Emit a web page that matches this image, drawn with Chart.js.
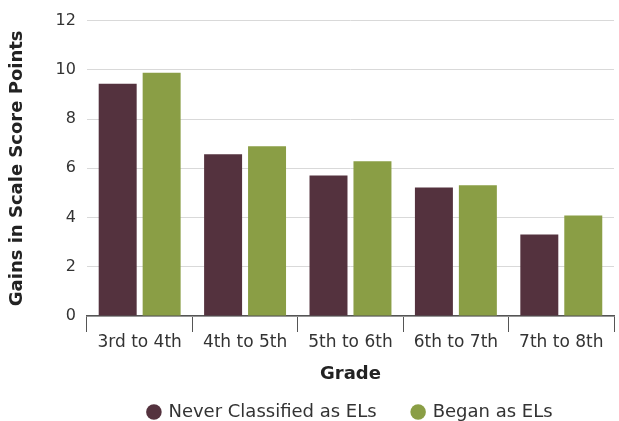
<!DOCTYPE html>
<html><head><meta charset="utf-8">
<script src="https://cdn.jsdelivr.net/npm/chart.js@4/dist/chart.umd.min.js"></script>
<style>html,body{margin:0;padding:0;background:#fff}#wrap{width:619px;height:421px}</style>
</head><body><div id="wrap"><canvas id="c" width="619" height="421"></canvas></div>
<script>
const categories = ["3rd to 4th","4th to 5th","5th to 6th","6th to 7th","7th to 8th"];
const neverEL = [9.43, 6.57, 5.71, 5.22, 3.31];
const beganEL = [9.88, 6.90, 6.29, 5.31, 4.08];
const yTicks = [0,2,4,6,8,10,12];
const FONT = "'DejaVu Sans', sans-serif";
const LEGEND_RESERVED = 34;
const LEGEND_PAD = 36;
const LEGEND_FONT = 18;
const legendPlace = {
  id: 'legendPlace',
  beforeInit(chart) {
    const lg = chart.legend;
    const origFit = lg.fit;
    lg.fit = function() { origFit.call(this); this.height = LEGEND_RESERVED; };
  },
  afterLayout(chart) {
    const lg = chart.legend;
    const ca = chart.chartArea;
    const target = 412 - LEGEND_FONT/2 - LEGEND_PAD;
    lg.top = target; lg.bottom = chart.height;
    const shift = (ca.left + ca.right) / 2 - (lg.left + lg.right) / 2;
    lg.left += shift; lg.right += shift;
  }
};
new Chart(document.getElementById('c'), {
  type: 'bar',
  data: {
    labels: categories,
    datasets: [
      {label: 'Never Classified as ELs', data: neverEL, backgroundColor: '#54323e', categoryPercentage: 0.834, barPercentage: 0.864},
      {label: 'Began as ELs', data: beganEL, backgroundColor: '#8a9e45', categoryPercentage: 0.834, barPercentage: 0.864}
    ]
  },
  plugins: [legendPlace],
  options: {
    responsive: false, animation: false,
    layout: {padding: {left: 7, right: 5, top: 15, bottom: 0}},
    plugins: {
      legend: {position: 'bottom', labels: {usePointStyle: true, pointStyle: 'circle', boxWidth: 11, boxHeight: 11, padding: LEGEND_PAD, color: '#333', font: {family: FONT, size: LEGEND_FONT}}},
      tooltip: {enabled: false}
    },
    scales: {
      x: {
        grid: {display: true, drawOnChartArea: false, drawTicks: true, tickLength: 16, color: '#555', offset: true},
        border: {display: true, color: '#555', width: 1.5},
        ticks: {color: '#333', font: {family: FONT, size: 17}, padding: 0},
        title: {display: true, text: 'Grade', color: '#222', font: {family: FONT, size: 18, weight: 'bold'}, padding: {top: 11, bottom: 2}}
      },
      y: {
        min: 0, max: 12,
        afterBuildTicks: s => { s.ticks = yTicks.map(v => ({value: v})); },
        grid: {color: '#d9d9d9', drawTicks: false, lineWidth: 1},
        border: {display: false},
        ticks: {color: '#333', font: {family: FONT, size: 16}, padding: 11},
        title: {display: true, text: 'Gains in Scale Score Points', color: '#222', font: {family: FONT, size: 18, weight: 'bold'}, padding: {top: 0, bottom: 16}}
      }
    }
  }
});
</script></body></html>
